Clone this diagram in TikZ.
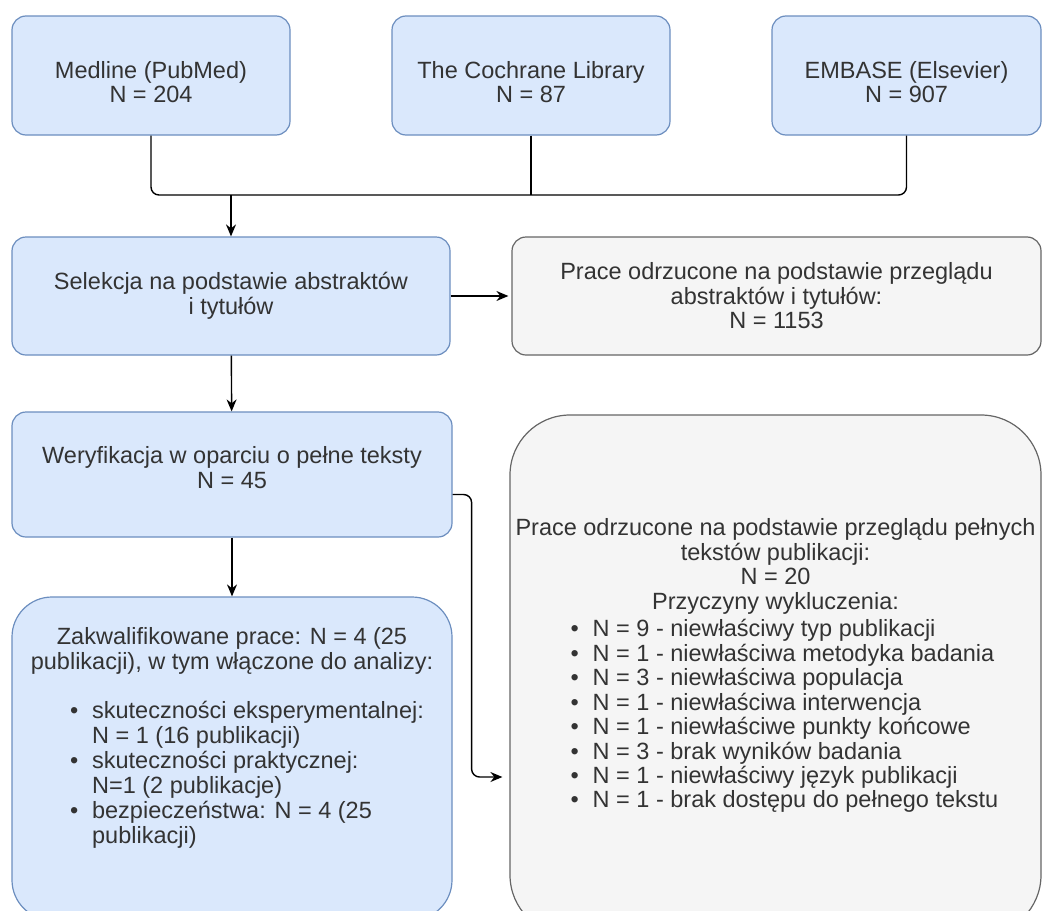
\documentclass[tikz,border=0pt]{standalone}
\usepackage{fontspec}
\setmainfont{Liberation Sans}
\usetikzlibrary{arrows.meta,positioning,calc}
\definecolor{BoxBlue}{HTML}{DAE8FC}
\definecolor{LineBlue}{HTML}{6C8EBF}
\definecolor{BoxGrey}{HTML}{F5F5F5}
\definecolor{LineGrey}{HTML}{666666}
\definecolor{TextDark}{HTML}{333333}
\newcommand{\bul}{\makebox[22pt][l]{\textbullet}}
\newcommand{\uppad}{\rule{0pt}{30pt}}
\newcommand{\downpad}{\rule[-14pt]{0pt}{14pt}}
\tikzset{>={Stealth[length=12pt,width=10pt]},every node/.style={font=\fontsize{23.5}{24.5}\selectfont,
 text=TextDark,inner sep=0pt},source/.style={draw=LineBlue,fill=BoxBlue,line width=1.2pt,
 rounded corners=14pt,align=center},reject/.style={draw=LineGrey,fill=BoxGrey,line width=1.2pt,
 rounded corners=14pt,align=center},link/.style={line width=1.4pt,rounded corners=8pt}}

\begin{document}
\begin{tikzpicture}[x=1pt,y=-1pt]
\useasboundingbox (0,0) rectangle (1043,910);
\clip (0,0) rectangle (1043,910);
% databases
\node[source,minimum width=278pt,minimum height=119pt] (med) at (151,75.5) {\uppad Medline (PubMed)\\N = 204};
\node[source,minimum width=278pt,minimum height=119pt] (coch) at (531,75.5) {\uppad The Cochrane Library\\N = 87};
\node[source,minimum width=269pt,minimum height=119pt] (emb) at (906.5,75.5) {\uppad EMBASE (Elsevier)\\N = 907};
% screening
\node[source,minimum width=438pt,minimum height=118pt] (sel) at (231,296) {Selekcja na podstawie abstraktów\\i tytułów};
\node[reject,minimum width=529pt,minimum height=118pt] (rejabs) at (776.5,296)
 {Prace odrzucone na podstawie przeglądu\\abstraktów i tytułów:\\N = 1153};
\node[source,minimum width=440pt,minimum height=125pt] (wer) at (232,474.5) {Weryfikacja w oparciu o pełne teksty\\N = 45\downpad};
% final boxes (cut by the page edge)
\node[source,rounded corners=40pt,minimum width=440pt,minimum height=323pt] (zak) at (232,758.5) {};
\node[below=31pt of zak.north,align=center] (zaktxt) {Zakwalifikowane prace: N = 4 (25\\
 publikacji), w tym włączone do analizy:\\[25pt]
 \renewcommand{\arraystretch}{1.02}%
 \hspace*{30pt}\begin{tabular}[t]{@{}l@{}}
 \bul skuteczności eksperymentalnej:\\
 \hspace*{22pt}N = 1 (16 publikacji)\\
 \bul skuteczności praktycznej:\\
 \hspace*{22pt}N=1 (2 publikacje)\\
 \bul bezpieczeństwa: N = 4 (25\\
 \hspace*{22pt}publikacji)
 \end{tabular}};
\node[reject,rounded corners=60pt,minimum width=531pt,minimum height=520pt] (rejfull) at (775.5,675) {};
\node[below=104pt of rejfull.north,align=center] (rejtxt) {Prace odrzucone na podstawie przeglądu pełnych\\
 tekstów publikacji:\\N = 20\\Przyczyny wykluczenia:\\[3pt]
 \renewcommand{\arraystretch}{0.98}%
 \hspace*{18pt}\begin{tabular}[t]{@{}l@{}}
 \bul N = 9 - niewłaściwy typ publikacji\\
 \bul N = 1 - niewłaściwa metodyka badania\\
 \bul N = 3 - niewłaściwa populacja\\
 \bul N = 1 - niewłaściwa interwencja\\
 \bul N = 1 - niewłaściwe punkty końcowe\\
 \bul N = 3 - brak wyników badania\\
 \bul N = 1 - niewłaściwy język publikacji\\
 \bul N = 1 - brak dostępu do pełnego tekstu
 \end{tabular}};
% connectors
\coordinate (join) at (231,195);
\draw[link] (med.south) |- (join) -| (emb.south);
\draw[link] (coch.south) -- (coch.south |- join);
\draw[link,->] (join) -- (sel);
\draw[link,->,shorten >=3pt] (sel) -- (rejabs);
\draw[link,->] (sel) -- (wer);
\draw[link,->] (wer) -- (zak);
\draw[link,->,shorten >=7pt] ([yshift=-20pt]wer.east) -- ++(19,0) |- ([yshift=-102pt]rejfull.west);
\end{tikzpicture}
\end{document}
